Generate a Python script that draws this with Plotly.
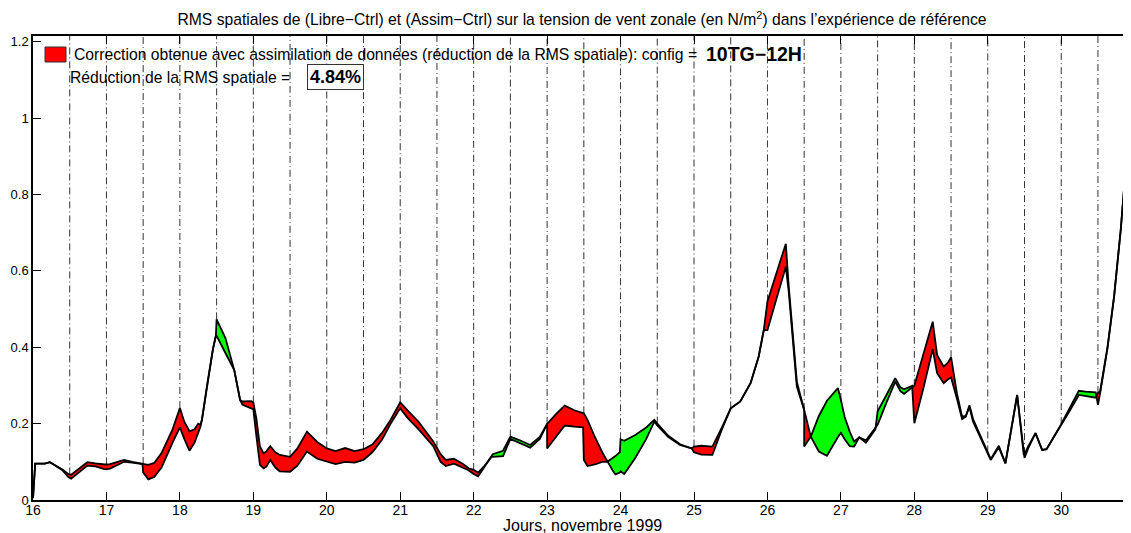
import numpy as np
import plotly.graph_objects as go

# temps en jours (novembre 1999); les doublons marquent un saut a l'instant d'analyse
jours = [16.00, 16.03, 16.16, 16.23, 16.40, 16.48, 16.52, 16.62, 16.74, 16.85,
         16.98, 17.05, 17.15, 17.24, 17.35, 17.49, 17.50, 17.57, 17.65, 17.75,
         17.90, 18.00, 18.06, 18.13, 18.20, 18.25, 18.28, 18.30, 18.37, 18.45,
         18.49, 18.50, 18.62, 18.74, 18.82, 18.85, 18.97, 19.00, 19.04, 19.09,
         19.14, 19.18, 19.23, 19.30, 19.36, 19.50, 19.60, 19.73, 19.87, 20.00,
         20.12, 20.25, 20.38, 20.50, 20.62, 20.75, 20.87, 21.00, 21.10, 21.25,
         21.45, 21.55, 21.62, 21.73, 21.85, 21.93, 22.00, 22.06, 22.15, 22.25,
         22.26, 22.40, 22.50, 22.62, 22.77, 22.90, 23.00, 23.00, 23.12, 23.24,
         23.37, 23.49, 23.50, 23.55, 23.65, 23.75, 23.82, 23.90, 23.93, 23.99,
         24.00, 24.05, 24.20, 24.35, 24.46, 24.50, 24.65, 24.81, 24.97, 25.00,
         25.10, 25.25, 25.38, 25.50, 25.63, 25.77, 25.88, 25.95, 26.00, 26.12,
         26.25, 26.29, 26.40, 26.50, 26.50, 26.59, 26.70, 26.81, 26.96, 27.00,
         27.05, 27.12, 27.18, 27.25, 27.34, 27.47, 27.50, 27.62, 27.74, 27.81,
         27.86, 27.97, 28.00, 28.12, 28.25, 28.31, 28.40, 28.46, 28.50, 28.58,
         28.65, 28.70, 28.75, 28.80, 29.04, 29.15, 29.24, 29.40, 29.49, 29.50,
         29.55, 29.65, 29.74, 29.80, 29.99, 30.12, 30.24, 30.33, 30.47, 30.50,
         30.53, 30.63, 30.72, 30.81, 30.90, 30.95, 31.00]

# RMS spatiale (Libre-Ctrl)
rms_libre = [0.005, 0.095, 0.095, 0.099, 0.080, 0.068, 0.066, 0.082, 0.099, 0.096,
             0.093, 0.094, 0.099, 0.105, 0.100, 0.094, 0.094, 0.092, 0.097, 0.123,
             0.185, 0.241, 0.205, 0.180, 0.185, 0.200, 0.197, 0.210, 0.300, 0.395,
             0.430, 0.430, 0.385, 0.340, 0.262, 0.258, 0.259, 0.255, 0.215, 0.140,
             0.122, 0.128, 0.141, 0.125, 0.118, 0.113, 0.135, 0.179, 0.152, 0.135,
             0.128, 0.136, 0.128, 0.133, 0.145, 0.175, 0.210, 0.256, 0.235, 0.205,
             0.153, 0.120, 0.105, 0.108, 0.095, 0.083, 0.079, 0.072, 0.090, 0.115,
             0.113, 0.115, 0.160, 0.150, 0.137, 0.160, 0.199, 0.199, 0.225, 0.247,
             0.235, 0.227, 0.227, 0.210, 0.165, 0.125, 0.100, 0.075, 0.067, 0.072,
             0.075, 0.068, 0.110, 0.160, 0.205, 0.195, 0.165, 0.144, 0.135, 0.140,
             0.142, 0.140, 0.190, 0.240, 0.258, 0.306, 0.375, 0.445, 0.520, 0.590,
             0.671, 0.559, 0.310, 0.236, 0.236, 0.166, 0.127, 0.116, 0.165, 0.176,
             0.160, 0.141, 0.140, 0.164, 0.156, 0.192, 0.197, 0.255, 0.310, 0.285,
             0.278, 0.295, 0.299, 0.380, 0.467, 0.380, 0.349, 0.360, 0.374, 0.279,
             0.218, 0.220, 0.243, 0.205, 0.105, 0.138, 0.096, 0.275, 0.118, 0.120,
             0.140, 0.175, 0.131, 0.133, 0.192, 0.235, 0.275, 0.272, 0.268, 0.280,
             0.285, 0.400, 0.533, 0.707, 0.926, 1.057, 1.160]

# RMS spatiale (Assim-Ctrl)
rms_assim = [0.005, 0.095, 0.095, 0.099, 0.078, 0.060, 0.056, 0.072, 0.090, 0.088,
             0.080, 0.082, 0.092, 0.100, 0.098, 0.094, 0.072, 0.054, 0.060, 0.085,
             0.150, 0.190, 0.160, 0.129, 0.150, 0.175, 0.192, 0.210, 0.300, 0.395,
             0.430, 0.473, 0.424, 0.340, 0.262, 0.250, 0.240, 0.238, 0.170, 0.092,
             0.083, 0.088, 0.105, 0.085, 0.075, 0.074, 0.090, 0.127, 0.108, 0.100,
             0.094, 0.100, 0.098, 0.105, 0.125, 0.157, 0.200, 0.240, 0.215, 0.185,
             0.141, 0.100, 0.089, 0.095, 0.085, 0.078, 0.068, 0.062, 0.088, 0.115,
             0.120, 0.129, 0.166, 0.157, 0.144, 0.165, 0.199, 0.135, 0.165, 0.195,
             0.192, 0.190, 0.105, 0.089, 0.093, 0.100, 0.100, 0.110, 0.115, 0.125,
             0.159, 0.155, 0.170, 0.190, 0.210, 0.200, 0.168, 0.146, 0.135, 0.125,
             0.119, 0.118, 0.185, 0.240, 0.258, 0.306, 0.375, 0.445, 0.445, 0.525,
             0.611, 0.545, 0.297, 0.236, 0.140, 0.166, 0.220, 0.260, 0.293, 0.262,
             0.218, 0.179, 0.153, 0.164, 0.150, 0.185, 0.232, 0.275, 0.319, 0.295,
             0.290, 0.299, 0.201, 0.290, 0.395, 0.332, 0.306, 0.316, 0.321, 0.265,
             0.212, 0.218, 0.248, 0.212, 0.107, 0.142, 0.096, 0.275, 0.118, 0.110,
             0.135, 0.175, 0.131, 0.133, 0.195, 0.242, 0.286, 0.284, 0.282, 0.249,
             0.280, 0.398, 0.533, 0.707, 0.926, 1.057, 1.160]

x_ticks = list(range(16, 31))
y_ticks = [0, 0.2, 0.4, 0.6, 0.8, 1, 1.2]
analyses = [16.5 + 0.5 * k for k in range(29)]

titre = ("RMS spatiales de (Libre\u2212Ctrl) et (Assim\u2212Ctrl) sur la tension de vent zonale "
         "(en N/m<sup>2</sup>) dans l\u2019exp\u00e9rience de r\u00e9f\u00e9rence")
legende = "Correction obtenue avec assimilation de donn\u00e9es (r\u00e9duction de la RMS spatiale): config ="
config = "10TG\u221212H"
reduction_txt = "R\u00e9duction de la RMS spatiale ="
reduction_val = "4.84%"

X_RANGE = [16, 30.95]
Y_RANGE = [0, 1.215]
# la page html decale la figure de 8 px (marge du body)
OFF = 8
W, H = 1131 - OFF, 533 - OFF
ML, MR, MT = 33 - OFF, 0, 36 - OFF
MB = H - (500 - OFF)
FONT = "Liberation Sans, Arial, Helvetica, sans-serif"


def px_to_paper(px, py):
    # px, py : position voulue dans la capture
    pw = W - ML - MR
    ph = H - MT - MB
    return (px - OFF - ML) / pw, (H - MB - (py - OFF)) / ph


def split_fill(t, a, b):
    # ajoute les points de croisement puis decoupe en zones de signe constant
    pts = []
    for i in range(len(t)):
        if i > 0:
            d0 = a[i - 1] - b[i - 1]
            d1 = a[i] - b[i]
            if d0 * d1 < 0:
                f = d0 / (d0 - d1)
                tc = t[i - 1] + f * (t[i] - t[i - 1])
                vc = a[i - 1] + f * (a[i] - a[i - 1])
                pts.append((tc, vc, vc))
        pts.append((t[i], a[i], b[i]))

    runs = []
    cur = []
    cur_s = 0
    for p in pts:
        d = p[1] - p[2]
        s = 1 if d > 1e-9 else (-1 if d < -1e-9 else 0)
        if s == 0:
            cur.append(p)
            if cur_s != 0:
                runs.append((cur_s, cur))
            cur = [p]
            cur_s = 0
        else:
            cur.append(p)
            cur_s = s
    if cur_s != 0:
        runs.append((cur_s, cur))
    return runs


fig = go.Figure()

# lignes verticales aux instants d'analyse, du haut jusqu'a la courbe
upper = np.maximum(rms_libre, rms_assim)
vx, vy = [], []
for d in analyses:
    idx = [i for i, t in enumerate(jours) if abs(t - d) < 1e-9]
    if idx:
        top = max(upper[i] for i in idx)
    else:
        top = float(np.interp(d, jours, upper))
    vx += [d, d, None]
    vy += [top, Y_RANGE[1], None]
fig.add_trace(go.Scatter(x=vx, y=vy, mode="lines", hoverinfo="skip", showlegend=False,
                         line=dict(color="#333333", width=1, dash="7px,3px,1px,3px")))

for s, run in split_fill(jours, rms_libre, rms_assim):
    xs = [p[0] for p in run]
    ya = [p[1] for p in run]
    yb = [p[2] for p in run]
    fig.add_trace(go.Scatter(x=xs + xs[::-1], y=ya + yb[::-1], mode="lines",
                             fill="toself", fillcolor="#ff0000" if s > 0 else "#00ff00",
                             line=dict(width=0), hoverinfo="skip", showlegend=False))

fig.add_trace(go.Scatter(x=jours, y=rms_libre, mode="lines", name="Libre-Ctrl",
                         line=dict(color="black", width=1.8), showlegend=False))
fig.add_trace(go.Scatter(x=jours, y=rms_assim, mode="lines", name="Assim-Ctrl",
                         line=dict(color="black", width=1.8), showlegend=False))

# legende faite a la main
x0, y0 = px_to_paper(45, 47)
x1, y1 = px_to_paper(66, 62)
fig.add_shape(type="rect", xref="paper", yref="paper", x0=x0, y0=y0, x1=x1, y1=y1,
              fillcolor="#ff0000", line=dict(color="#333333", width=1))

ax, ay = px_to_paper(72, 54)
fig.add_annotation(x=ax, y=ay, xref="paper", yref="paper", text=legende, showarrow=False,
                   xanchor="left", yanchor="middle", font=dict(size=15.7, color="black"))
ax, ay = px_to_paper(704, 54)
fig.add_annotation(x=ax, y=ay, xref="paper", yref="paper", text="<b>" + config + "</b>",
                   showarrow=False, xanchor="left", yanchor="middle",
                   font=dict(size=19.5, color="black"))
ax, ay = px_to_paper(68, 77)
fig.add_annotation(x=ax, y=ay, xref="paper", yref="paper", text=reduction_txt, showarrow=False,
                   xanchor="left", yanchor="middle", font=dict(size=15.7, color="black"))
ax, ay = px_to_paper(335, 77)
fig.add_annotation(x=ax, y=ay, xref="paper", yref="paper", text="<b>" + reduction_val + "</b>",
                   showarrow=False, xanchor="center", yanchor="middle",
                   font=dict(size=18, color="black"), bgcolor="white",
                   bordercolor="#333333", borderwidth=1, borderpad=2)

# titre de l'axe x
ax, ay = px_to_paper(33 + (1131 - 33) / 2, 525)
fig.add_annotation(x=ax, y=ay, xref="paper", yref="paper", text="Jours, novembre 1999",
                   showarrow=False, xanchor="center", yanchor="middle",
                   font=dict(size=16, color="black"))

fig.update_layout(
    width=W, height=H,
    margin=dict(l=ML, r=MR, t=MT, b=MB, autoexpand=False),
    paper_bgcolor="white", plot_bgcolor="white",
    font=dict(family=FONT, size=13, color="black"),
    title=dict(text=titre, x=(ML + (W - ML - MR) / 2) / W, xanchor="center",
               y=1 - (20 - OFF) / H, yanchor="middle", font=dict(size=15.7)),
    showlegend=False,
)
fig.update_xaxes(range=X_RANGE, tickvals=x_ticks, ticks="inside", ticklen=8,
                 tickcolor="black", showline=True, linecolor="black", linewidth=1.5,
                 mirror="ticks", showgrid=False, zeroline=False, automargin=False,
                 tickfont=dict(size=14), ticklabelstandoff=-4)
fig.update_yaxes(range=Y_RANGE, tickvals=y_ticks, ticks="inside", ticklen=8,
                 tickcolor="black", showline=True, linecolor="black", linewidth=1.5,
                 mirror="ticks", showgrid=False, zeroline=False, automargin=False,
                 tickfont=dict(size=13))

fig.write_html("out.html")
